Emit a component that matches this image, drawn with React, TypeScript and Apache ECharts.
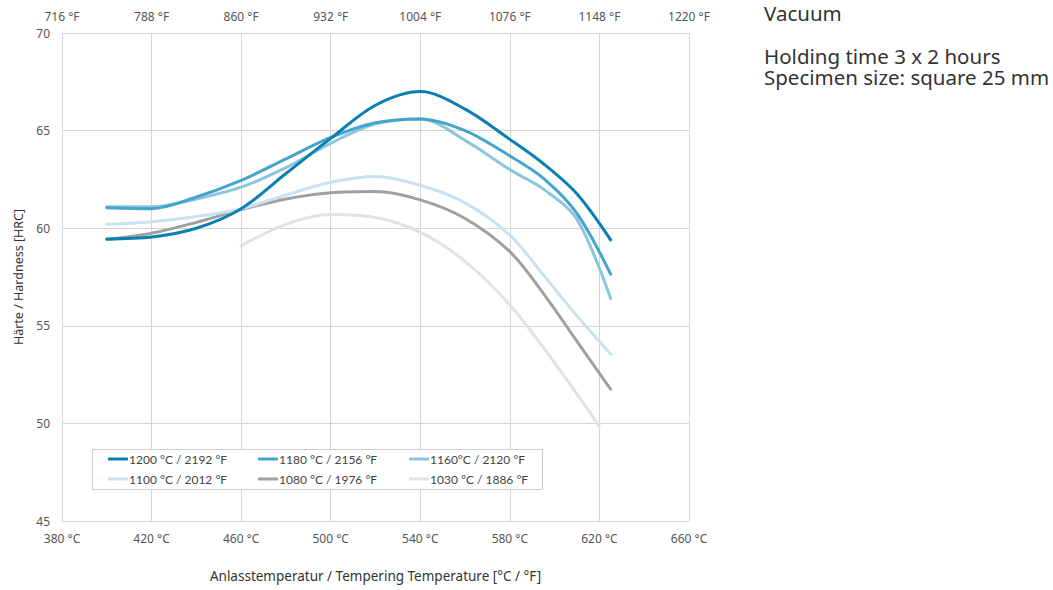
import React, { useEffect, useRef } from "react";
import * as echarts from "echarts";

const temps = [400, 420, 440, 460, 480, 500, 520, 540, 560, 580, 595, 610, 625];
const temps1030 = [460, 480, 500, 520, 540, 560, 580, 600, 620];

const hrc1200 = [59.45, 59.55, 60.0, 61.0, 62.8, 64.6, 66.3, 67.0, 66.1, 64.55, 63.3, 61.75, 59.4];
const hrc1180 = [61.05, 61.0, 61.6, 62.45, 63.55, 64.65, 65.4, 65.6, 65.0, 63.7, 62.55, 60.75, 57.65];
const hrc1160 = [61.1, 61.1, 61.5, 62.1, 63.1, 64.35, 65.35, 65.6, 64.5, 63.0, 62.0, 60.45, 56.4];
const hrc1100 = [60.2, 60.33, 60.6, 61.0, 61.7, 62.35, 62.65, 62.2, 61.3, 59.65, 57.6, 55.5, 53.55];
const hrc1080 = [59.42, 59.74, 60.3, 60.95, 61.5, 61.82, 61.88, 61.45, 60.5, 58.8, 56.65, 54.2, 51.75];
const hrc1030 = [59.1, 60.2, 60.7, 60.55, 59.8, 58.3, 56.07, 53.1, 49.85];

const seriesNames = [
  "1200 °C / 2192 °F",
  "1180 °C / 2156 °F",
  "1160°C / 2120 °F",
  "1100 °C / 2012 °F",
  "1080 °C / 1976 °F",
  "1030 °C / 1886 °F",
];
const seriesColors = ["#0a80b2", "#45a4cb", "#8cc6de", "#c9e2f1", "#a0a0a0", "#e2e2e2"];

const celsiusTicks = [380, 420, 460, 500, 540, 580, 620, 660];
const fahrenheitTicks = ["716", "788", "860", "932", "1004", "1076", "1148", "1220"];

const infoTitle = "Vacuum";
const infoLines = ["Holding time 3 x 2 hours", "Specimen size: square 25 mm"];

const FONT = "'Noto Sans', Lato, sans-serif";
const LEGEND_FONT = "Lato, 'Noto Sans', sans-serif";

export default function App() {
  const ref = useRef<HTMLDivElement>(null);
  useEffect(() => {
    if (!ref.current) return;
    const chart = echarts.init(ref.current, null, { renderer: "svg" });
    const pairs = (xs: number[], ys: number[]) => xs.map((x, i) => [x, ys[i]]);
    const dataSets = [
      pairs(temps, hrc1200),
      pairs(temps, hrc1180),
      pairs(temps, hrc1160),
      pairs(temps, hrc1100),
      pairs(temps, hrc1080),
      pairs(temps1030, hrc1030),
    ];
    const legendPos = [
      [108, 453],
      [258, 453],
      [409, 453],
      [108, 473],
      [258, 473],
      [409, 473],
    ];
    const cMin = celsiusTicks[0];
    const cMax = celsiusTicks[celsiusTicks.length - 1];
    const option: any = {
      animation: false,
      textStyle: { fontFamily: FONT },
      grid: { left: 62, right: 364, top: 33, bottom: 69 },
      xAxis: [
        {
          type: "value",
          position: "bottom",
          min: cMin,
          max: cMax,
          interval: 40,
          name: "Anlasstemperatur / Tempering Temperature [°C / °F]",
          nameLocation: "middle",
          nameGap: 48,
          nameTextStyle: { color: "#333", fontSize: 13.5, fontFamily: FONT },
          axisLine: { show: false },
          axisTick: { show: false },
          axisLabel: {
            color: "#555",
            fontSize: 12,
            margin: 11,
            fontFamily: FONT,
            formatter: (v: number) => `${v} °C`,
          },
          splitLine: { show: true, lineStyle: { color: "#d5d5d5", width: 1 } },
        },
        {
          type: "value",
          position: "top",
          min: cMin,
          max: cMax,
          interval: 40,
          axisLine: { show: false },
          axisTick: { show: false },
          axisLabel: {
            color: "#555",
            fontSize: 12,
            margin: 11,
            fontFamily: FONT,
            formatter: (v: number) => {
              const idx = celsiusTicks.indexOf(v);
              return idx >= 0 ? `${fahrenheitTicks[idx]} °F` : "";
            },
          },
          splitLine: { show: false },
        },
      ],
      yAxis: {
        type: "value",
        min: 45,
        max: 70,
        interval: 5,
        name: "Härte / Hardness [HRC]",
        nameLocation: "middle",
        nameGap: 37,
        nameTextStyle: { color: "#333", fontSize: 12.5, fontFamily: FONT },
        axisLine: { show: false },
        axisTick: { show: false },
        axisLabel: { color: "#555", fontSize: 12, margin: 12, fontFamily: FONT },
        splitLine: { show: true, lineStyle: { color: "#d5d5d5", width: 1 } },
      },
      legend: seriesNames.map((name, i) => ({
        data: [name],
        left: legendPos[i][0],
        top: legendPos[i][1],
        padding: 0,
        itemWidth: 20,
        itemHeight: 3,
        icon: "roundRect",
        selectedMode: false,
        textStyle: { color: "#444", fontSize: 12, fontFamily: LEGEND_FONT, padding: [0, 0, 0, -4] },
      })),
      graphic: [
        {
          type: "rect",
          z: 3,
          shape: { x: 92.5, y: 449.5, width: 450, height: 40 },
          style: { fill: "#fff", stroke: "#cccccc", lineWidth: 1 },
        },
        {
          type: "text",
          left: 764,
          top: 2,
          style: { text: infoTitle, fill: "#333", font: `20.5px ${FONT}` },
        },
        ...infoLines.map((t, i) => ({
          type: "text",
          left: 764,
          top: 45 + i * 21,
          style: { text: t, fill: "#333", font: `20.5px ${FONT}` },
        })),
      ],
      series: seriesNames.map((name, i) => ({
        name,
        type: "line",
        data: dataSets[i],
        smooth: 0.33,
        symbol: "none",
        z: 10 - i,
        lineStyle: { color: seriesColors[i], width: 3, cap: "round" },
        itemStyle: { color: seriesColors[i] },
      })),
    };
    chart.setOption(option);
    return () => chart.dispose();
  }, []);
  return <div ref={ref} style={{ width: 1053, height: 590, position: "absolute", left: 0, top: 0 }} />;
}
